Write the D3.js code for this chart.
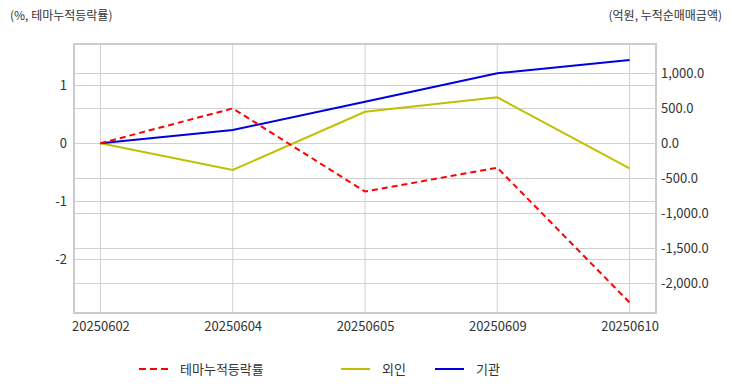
<!DOCTYPE html>
<html>
<head>
<meta charset="utf-8">
<script src="https://cdn.jsdelivr.net/npm/d3@7"></script>
<style>
  body { margin: 0; background: #fff; }
  svg text { font-family: "Noto Sans CJK KR", "Noto Sans", sans-serif; fill: #333; }
</style>
</head>
<body>
<div id="chart"></div>
<script>
// 데이터
var dates = ["20250602", "20250604", "20250605", "20250609", "20250610"];
var themeRate = [0, 0.60, -0.83, -0.42, -2.74];     // 테마누적등락률 (%)
var foreign = [0, -381, 451, 657, -357];           // 외인 (억원)
var inst = [0, 190, 594, 1000, 1190];              // 기관 (억원)
var leftTicks = [1, 0, -1, -2];
var rightTicks = [1000, 500, 0, -500, -1000, -1500, -2000];

var W = 732, H = 392;
var m = {left: 74, right: 76, top: 44, bottom: 79};
var pw = W - m.left - m.right, ph = H - m.top - m.bottom;

var svg = d3.select("#chart").append("svg").attr("width", W).attr("height", H);

var x = d3.scalePoint().domain(dates).range([0, pw]).padding(0.2);
var yL = d3.scaleLinear().domain([-2.921, 1.709]).range([ph, 0]);
var yR = d3.scaleLinear().domain([-2424, 1419]).range([ph, 0]);

var g = svg.append("g").attr("transform", "translate(" + m.left + "," + m.top + ")");

// 그리드
g.selectAll("line.vg").data(dates).enter().append("line")
  .attr("x1", function(d){ return x(d); }).attr("x2", function(d){ return x(d); })
  .attr("y1", 0).attr("y2", ph).attr("stroke", "#d0d0d0");
g.selectAll("line.hl").data(leftTicks).enter().append("line")
  .attr("x1", 0).attr("x2", pw)
  .attr("y1", function(d){ return Math.round(yL(d)) + 0.5; }).attr("y2", function(d){ return Math.round(yL(d)) + 0.5; })
  .attr("stroke", "#d0d0d0");
g.selectAll("line.hr").data(rightTicks).enter().append("line")
  .attr("x1", 0).attr("x2", pw)
  .attr("y1", function(d){ return Math.round(yR(d)) + 0.5; }).attr("y2", function(d){ return Math.round(yR(d)) + 0.5; })
  .attr("stroke", "#d0d0d0");
g.append("rect").attr("x", 0).attr("y", 0).attr("width", pw).attr("height", ph)
  .attr("fill", "none").attr("stroke", "#cccccc").attr("stroke-width", 2);

// 축
var axL = g.append("g").call(d3.axisLeft(yL).tickValues(leftTicks).tickSize(0).tickPadding(6)
  .tickFormat(function(d){ return String(d); }));
var axR = g.append("g").attr("transform", "translate(" + pw + ",0)")
  .call(d3.axisRight(yR).tickValues(rightTicks).tickSize(0).tickPadding(5)
  .tickFormat(function(d){ return d3.format(",.1f")(d).replace("−", "-"); }));
var axB = g.append("g").attr("transform", "translate(0," + ph + ")")
  .call(d3.axisBottom(x).tickSize(0).tickPadding(6));
[axL, axR, axB].forEach(function(a){
  a.select(".domain").remove();
  a.selectAll("text").style("font-size", "13px").attr("fill", "#333");
});
axL.selectAll("text").attr("dx", "-1");
axB.selectAll("text").attr("dy", "0.9em");

// 선
function drawLine(vals, scale, color, dash){
  var line = d3.line().x(function(d, i){ return x(dates[i]); }).y(function(d){ return scale(d); });
  g.append("path").datum(vals).attr("d", line).attr("fill", "none")
    .attr("stroke", color).attr("stroke-width", 2)
    .attr("stroke-dasharray", dash || null);
}
drawLine(foreign, yR, "#c0c000");
drawLine(inst, yR, "#0000e0");
drawLine(themeRate, yL, "#ff0000", "6,4");

// 축 제목
svg.append("text").attr("x", 10).attr("y", 20).style("font-size", "12px").text("(%, 테마누적등락률)");
svg.append("text").attr("x", 722).attr("y", 20).attr("text-anchor", "end").style("font-size", "12px").text("(억원, 누적순매매금액)");

// 범례
var legend = [
  {name: "테마누적등락률", color: "#ff0000", dash: "7,4", x: 139},
  {name: "외인", color: "#c0c000", dash: null, x: 341},
  {name: "기관", color: "#0000e0", dash: null, x: 435}
];
var lg = svg.selectAll("g.lg").data(legend).enter().append("g")
  .attr("transform", function(d){ return "translate(" + d.x + ",369)"; });
lg.append("line").attr("x1", 0).attr("x2", 29).attr("y1", 0).attr("y2", 0)
  .attr("stroke", function(d){ return d.color; }).attr("stroke-width", 2)
  .attr("stroke-dasharray", function(d){ return d.dash; });
lg.append("text").attr("x", 41).attr("y", 5).style("font-size", "13px").text(function(d){ return d.name; });
</script>
</body>
</html>
